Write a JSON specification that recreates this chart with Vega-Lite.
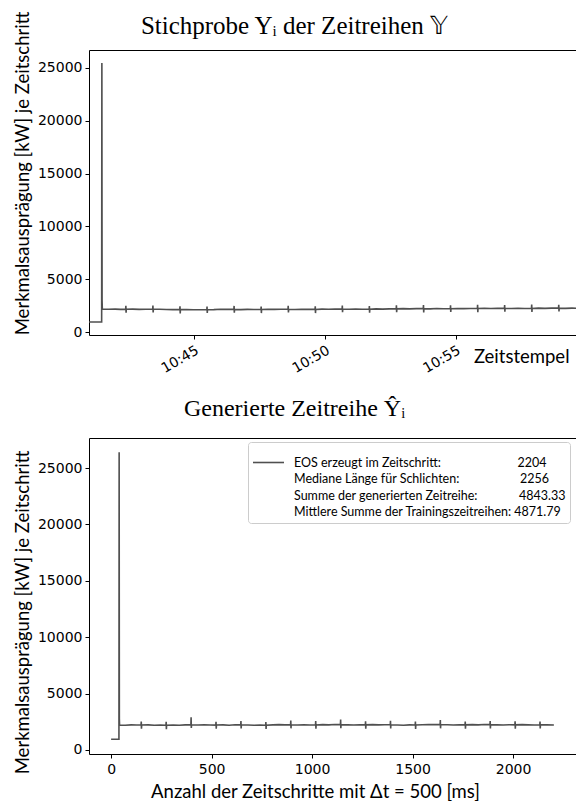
{
  "$schema": "https://vega.github.io/schema/vega-lite/v6.json",
  "padding": {"left": 12, "top": 10, "right": 0, "bottom": 0},
  "spacing": 103,
  "bounds": "flush",
  "resolve": {"legend": {"color": "independent"}, "scale": {"color": "independent"}},
  "config": {
    "view": {"stroke": "black", "strokeWidth": 1},
    "axis": {"grid": false, "domain": false, "tickColor": "black", "tickSize": 4, "labelFont": "DejaVu Sans", "labelFontSize": 14, "labelColor": "black", "labelPadding": 3, "titleFont": "Lato", "titleFontSize": 18.5, "titleFontWeight": "normal", "titleColor": "black", "labelOverlap": false},
    "title": {"font": "Liberation Serif", "fontSize": 25, "fontWeight": "normal", "color": "black", "anchor": "middle", "frame": "bounds", "baseline": "alphabetic"}
  },
  "vconcat": [
    {
      "width": 487,
      "height": 285,
      "title": {"text": "Stichprobe Yᵢ der Zeitreihen 𝕐", "offset": -28},
      "data": {"values": [
        {"t":"2021-06-01T10:41:00","v":940},{"t":"2021-06-01T10:41:29","v":940},{"t":"2021-06-01T10:41:29.500","v":25470},{"t":"2021-06-01T10:41:30","v":2950},{"t":"2021-06-01T10:41:30.500","v":2180},{"t":"2021-06-01T10:41:45","v":2150},{"t":"2021-06-01T10:42:00","v":2170},{"t":"2021-06-01T10:42:12","v":2140},
        {"t":"2021-06-01T10:42:24","v":2150},{"t":"2021-06-01T10:42:24.500","v":2480},{"t":"2021-06-01T10:42:25","v":1820},{"t":"2021-06-01T10:42:25.500","v":2150},{"t":"2021-06-01T10:42:40","v":2170},{"t":"2021-06-01T10:42:55","v":2140},{"t":"2021-06-01T10:43:10","v":2160},
        {"t":"2021-06-01T10:43:26","v":2170},{"t":"2021-06-01T10:43:26.500","v":2500},{"t":"2021-06-01T10:43:27","v":1860},{"t":"2021-06-01T10:43:27.500","v":2170},{"t":"2021-06-01T10:43:42","v":2150},{"t":"2021-06-01T10:43:57","v":2130},{"t":"2021-06-01T10:44:12","v":2120},
        {"t":"2021-06-01T10:44:28","v":2120},{"t":"2021-06-01T10:44:28.500","v":2440},{"t":"2021-06-01T10:44:29","v":1760},{"t":"2021-06-01T10:44:29.500","v":2120},{"t":"2021-06-01T10:44:44","v":2130},{"t":"2021-06-01T10:44:59","v":2100},{"t":"2021-06-01T10:45:14","v":2110},
        {"t":"2021-06-01T10:45:30","v":2110},{"t":"2021-06-01T10:45:30.500","v":2420},{"t":"2021-06-01T10:45:31","v":1800},{"t":"2021-06-01T10:45:31.500","v":2110},{"t":"2021-06-01T10:45:46","v":2120},{"t":"2021-06-01T10:46:01","v":2150},{"t":"2021-06-01T10:46:16","v":2140},
        {"t":"2021-06-01T10:46:32","v":2140},{"t":"2021-06-01T10:46:32.500","v":2470},{"t":"2021-06-01T10:46:33","v":1830},{"t":"2021-06-01T10:46:33.500","v":2140},{"t":"2021-06-01T10:46:48","v":2120},{"t":"2021-06-01T10:47:03","v":2140},{"t":"2021-06-01T10:47:18","v":2130},
        {"t":"2021-06-01T10:47:34","v":2130},{"t":"2021-06-01T10:47:34.500","v":2400},{"t":"2021-06-01T10:47:35","v":1790},{"t":"2021-06-01T10:47:35.500","v":2130},{"t":"2021-06-01T10:47:50","v":2160},{"t":"2021-06-01T10:48:05","v":2140},{"t":"2021-06-01T10:48:20","v":2150},
        {"t":"2021-06-01T10:48:36","v":2150},{"t":"2021-06-01T10:48:36.500","v":2480},{"t":"2021-06-01T10:48:37","v":1850},{"t":"2021-06-01T10:48:37.500","v":2150},{"t":"2021-06-01T10:48:52","v":2130},{"t":"2021-06-01T10:49:07","v":2160},{"t":"2021-06-01T10:49:22","v":2140},
        {"t":"2021-06-01T10:49:38","v":2140},{"t":"2021-06-01T10:49:38.500","v":2430},{"t":"2021-06-01T10:49:39","v":1790},{"t":"2021-06-01T10:49:39.500","v":2140},{"t":"2021-06-01T10:49:54","v":2170},{"t":"2021-06-01T10:50:09","v":2150},{"t":"2021-06-01T10:50:24","v":2170},
        {"t":"2021-06-01T10:50:40","v":2170},{"t":"2021-06-01T10:50:40.500","v":2500},{"t":"2021-06-01T10:50:41","v":1870},{"t":"2021-06-01T10:50:41.500","v":2170},{"t":"2021-06-01T10:50:56","v":2150},{"t":"2021-06-01T10:51:11","v":2180},{"t":"2021-06-01T10:51:26","v":2160},
        {"t":"2021-06-01T10:51:42","v":2160},{"t":"2021-06-01T10:51:42.500","v":2460},{"t":"2021-06-01T10:51:43","v":1830},{"t":"2021-06-01T10:51:43.500","v":2160},{"t":"2021-06-01T10:51:58","v":2190},{"t":"2021-06-01T10:52:13","v":2170},{"t":"2021-06-01T10:52:28","v":2190},
        {"t":"2021-06-01T10:52:44","v":2190},{"t":"2021-06-01T10:52:44.500","v":2520},{"t":"2021-06-01T10:52:45","v":1880},{"t":"2021-06-01T10:52:45.500","v":2190},{"t":"2021-06-01T10:53:00","v":2210},{"t":"2021-06-01T10:53:15","v":2190},{"t":"2021-06-01T10:53:30","v":2210},
        {"t":"2021-06-01T10:53:46","v":2210},{"t":"2021-06-01T10:53:46.500","v":2560},{"t":"2021-06-01T10:53:47","v":1860},{"t":"2021-06-01T10:53:47.500","v":2210},{"t":"2021-06-01T10:54:02","v":2190},{"t":"2021-06-01T10:54:17","v":2220},{"t":"2021-06-01T10:54:32","v":2200},
        {"t":"2021-06-01T10:54:48","v":2200},{"t":"2021-06-01T10:54:48.500","v":2530},{"t":"2021-06-01T10:54:49","v":1900},{"t":"2021-06-01T10:54:49.500","v":2200},{"t":"2021-06-01T10:55:04","v":2230},{"t":"2021-06-01T10:55:19","v":2210},{"t":"2021-06-01T10:55:34","v":2220},
        {"t":"2021-06-01T10:55:50","v":2220},{"t":"2021-06-01T10:55:50.500","v":2570},{"t":"2021-06-01T10:55:51","v":1870},{"t":"2021-06-01T10:55:51.500","v":2220},{"t":"2021-06-01T10:56:06","v":2250},{"t":"2021-06-01T10:56:21","v":2230},{"t":"2021-06-01T10:56:36","v":2240},
        {"t":"2021-06-01T10:56:52","v":2240},{"t":"2021-06-01T10:56:52.500","v":2560},{"t":"2021-06-01T10:56:53","v":1930},{"t":"2021-06-01T10:56:53.500","v":2240},{"t":"2021-06-01T10:57:08","v":2220},{"t":"2021-06-01T10:57:23","v":2250},{"t":"2021-06-01T10:57:38","v":2230},
        {"t":"2021-06-01T10:57:54","v":2230},{"t":"2021-06-01T10:57:54.500","v":2600},{"t":"2021-06-01T10:57:55","v":1890},{"t":"2021-06-01T10:57:55.500","v":2230},{"t":"2021-06-01T10:58:10","v":2260},{"t":"2021-06-01T10:58:25","v":2240},{"t":"2021-06-01T10:58:40","v":2260},
        {"t":"2021-06-01T10:58:56","v":2260},{"t":"2021-06-01T10:58:56.500","v":2580},{"t":"2021-06-01T10:58:57","v":1950},{"t":"2021-06-01T10:58:57.500","v":2260},{"t":"2021-06-01T10:59:12","v":2240},{"t":"2021-06-01T10:59:27","v":2260},{"t":"2021-06-01T10:59:36","v":2250}
      ]},
      "mark": {"type": "line", "color": "#505050", "strokeWidth": 1.6, "clip": true},
      "encoding": {
        "x": {"field": "t", "type": "temporal",
          "scale": {"domain": [{"year":2021,"month":6,"date":1,"hours":10,"minutes":41,"seconds":0},{"year":2021,"month":6,"date":1,"hours":10,"minutes":59,"seconds":36}], "nice": false},
          "axis": {"values": [{"year":2021,"month":6,"date":1,"hours":10,"minutes":45},{"year":2021,"month":6,"date":1,"hours":10,"minutes":50},{"year":2021,"month":6,"date":1,"hours":10,"minutes":55}],
            "format": "%H:%M", "labelAngle": -30, "labelAlign": "right", "labelBaseline": "top", "labelPadding": 4, "labelFlush": false,
            "title": "Zeitstempel", "titleX": 480, "titleY": 27, "titleAlign": "right", "titleBaseline": "alphabetic"}},
        "y": {"field": "v", "type": "quantitative",
          "scale": {"domain": [-284, 26700], "nice": false, "zero": false},
          "axis": {"values": [0, 5000, 10000, 15000, 20000, 25000], "format": "d", "title": "Merkmalsausprägung [kW] je Zeitschritt", "titleX": -67, "titleY": 123, "titleBaseline": "middle"}}
      }
    },
    {
      "width": 487,
      "height": 316,
      "title": {"text": "Generierte Zeitreihe Ŷᵢ", "offset": 17, "fontSize": 24},
      "data": {"values": [
        {"s":0,"v":950},{"s":39,"v":950},{"s":40,"v":26390},{"s":41,"v":2760},{"s":42,"v":2220},{"s":70,"v":2200},{"s":100,"v":2230},{"s":125,"v":2210},
        {"s":149,"v":2210},{"s":150,"v":2520},{"s":151,"v":1880},{"s":152,"v":2210},{"s":185,"v":2230},{"s":215,"v":2200},{"s":245,"v":2220},
        {"s":273,"v":2200},{"s":274,"v":2500},{"s":275,"v":1850},{"s":276,"v":2200},{"s":309,"v":2220},{"s":339,"v":2190},{"s":369,"v":2230},
        {"s":397,"v":2230},{"s":398,"v":2900},{"s":399,"v":1950},{"s":400,"v":2230},{"s":433,"v":2210},{"s":463,"v":2240},{"s":493,"v":2220},
        {"s":521,"v":2210},{"s":522,"v":2500},{"s":523,"v":1880},{"s":524,"v":2210},{"s":557,"v":2230},{"s":587,"v":2200},{"s":617,"v":2240},
        {"s":645,"v":2230},{"s":646,"v":2560},{"s":647,"v":1900},{"s":648,"v":2230},{"s":681,"v":2210},{"s":711,"v":2190},{"s":741,"v":2210},
        {"s":769,"v":2200},{"s":770,"v":2480},{"s":771,"v":1860},{"s":772,"v":2200},{"s":805,"v":2230},{"s":835,"v":2250},{"s":865,"v":2230},
        {"s":893,"v":2240},{"s":894,"v":2620},{"s":895,"v":1920},{"s":896,"v":2240},{"s":929,"v":2220},{"s":959,"v":2240},{"s":989,"v":2210},
        {"s":1017,"v":2220},{"s":1018,"v":2560},{"s":1019,"v":1880},{"s":1020,"v":2220},{"s":1053,"v":2250},{"s":1083,"v":2230},{"s":1113,"v":2260},
        {"s":1141,"v":2250},{"s":1142,"v":2700},{"s":1143,"v":1930},{"s":1144,"v":2250},{"s":1177,"v":2230},{"s":1207,"v":2210},{"s":1237,"v":2240},
        {"s":1265,"v":2230},{"s":1266,"v":2540},{"s":1267,"v":1890},{"s":1268,"v":2230},{"s":1301,"v":2250},{"s":1331,"v":2230},{"s":1361,"v":2240},
        {"s":1389,"v":2240},{"s":1390,"v":2600},{"s":1391,"v":1900},{"s":1392,"v":2240},{"s":1425,"v":2220},{"s":1455,"v":2200},{"s":1485,"v":2230},
        {"s":1513,"v":2220},{"s":1514,"v":2530},{"s":1515,"v":1870},{"s":1516,"v":2220},{"s":1549,"v":2240},{"s":1579,"v":2260},{"s":1609,"v":2250},
        {"s":1637,"v":2260},{"s":1638,"v":2650},{"s":1639,"v":1920},{"s":1640,"v":2260},{"s":1673,"v":2240},{"s":1703,"v":2220},{"s":1733,"v":2240},
        {"s":1761,"v":2230},{"s":1762,"v":2520},{"s":1763,"v":1890},{"s":1764,"v":2230},{"s":1797,"v":2250},{"s":1827,"v":2230},{"s":1857,"v":2260},
        {"s":1885,"v":2250},{"s":1886,"v":2560},{"s":1887,"v":1910},{"s":1888,"v":2250},{"s":1921,"v":2230},{"s":1951,"v":2210},{"s":1981,"v":2240},
        {"s":2009,"v":2230},{"s":2010,"v":2540},{"s":2011,"v":1880},{"s":2012,"v":2230},{"s":2045,"v":2250},{"s":2075,"v":2230},{"s":2105,"v":2220},
        {"s":2133,"v":2240},{"s":2134,"v":2520},{"s":2135,"v":1900},{"s":2136,"v":2240},{"s":2169,"v":2230},{"s":2203,"v":2220}
      ]},
      "mark": {"type": "line", "strokeWidth": 1.6, "clip": true},
      "encoding": {
        "x": {"field": "s", "type": "quantitative",
          "scale": {"domain": [-110, 2313], "nice": false, "zero": false},
          "axis": {"values": [0, 500, 1000, 1500, 2000], "format": "d", "labelPadding": 4, "labelFlush": false, "title": "Anzahl der Zeitschritte mit Δt = 500 [ms]", "titleX": 226, "titleY": 43, "titleBaseline": "alphabetic"}},
        "y": {"field": "v", "type": "quantitative",
          "scale": {"domain": [-355, 27660], "nice": false, "zero": false},
          "axis": {"values": [0, 5000, 10000, 15000, 20000, 25000], "format": "d", "title": "Merkmalsausprägung [kW] je Zeitschritt", "titleX": -67, "titleY": 174, "titleBaseline": "middle"}},
        "color": {"datum": "Generiert", "type": "nominal",
          "scale": {"range": ["#505050"]},
          "legend": {"orient": "none", "legendX": 159, "legendY": 4, "title": null,
            "symbolType": "stroke", "symbolSize": 961, "symbolStrokeWidth": 1.6,
            "labelFont": "Lato", "labelFontSize": 12.5, "labelColor": "black", "labelOffset": 9, "labelLimit": 500,
            "padding": 4, "strokeColor": "#cccccc", "fillColor": "#ffffff", "cornerRadius": 3,
            "labelExpr": "['EOS erzeugt im Zeitschritt:\u00a0\u00a0\u00a0\u00a0\u00a0\u00a0\u00a0\u00a0\u00a0\u00a0\u00a0\u00a0\u00a0\u00a0\u00a0\u00a0\u00a0\u00a0\u00a0\u00a0\u00a0\u00a0\u00a0\u00a02204', 'Mediane Länge für Schlichten:\u00a0\u00a0\u00a0\u00a0\u00a0\u00a0\u00a0\u00a0\u00a0\u00a0\u00a0\u00a0\u00a0\u00a0\u00a0\u00a0\u00a0\u00a0\u00a02256', 'Summe der generierten Zeitreihe:\u00a0\u00a0\u00a0\u00a0\u00a0\u00a0\u00a0\u00a0\u00a0\u00a0\u00a0\u00a0\u00a04843.33', 'Mittlere Summe der Trainingszeitreihen: 4871.79']",
            "encode": {"labels": {"update": {"lineHeight": {"value": 16.5}}}}}}
      }
    }
  ]
}
